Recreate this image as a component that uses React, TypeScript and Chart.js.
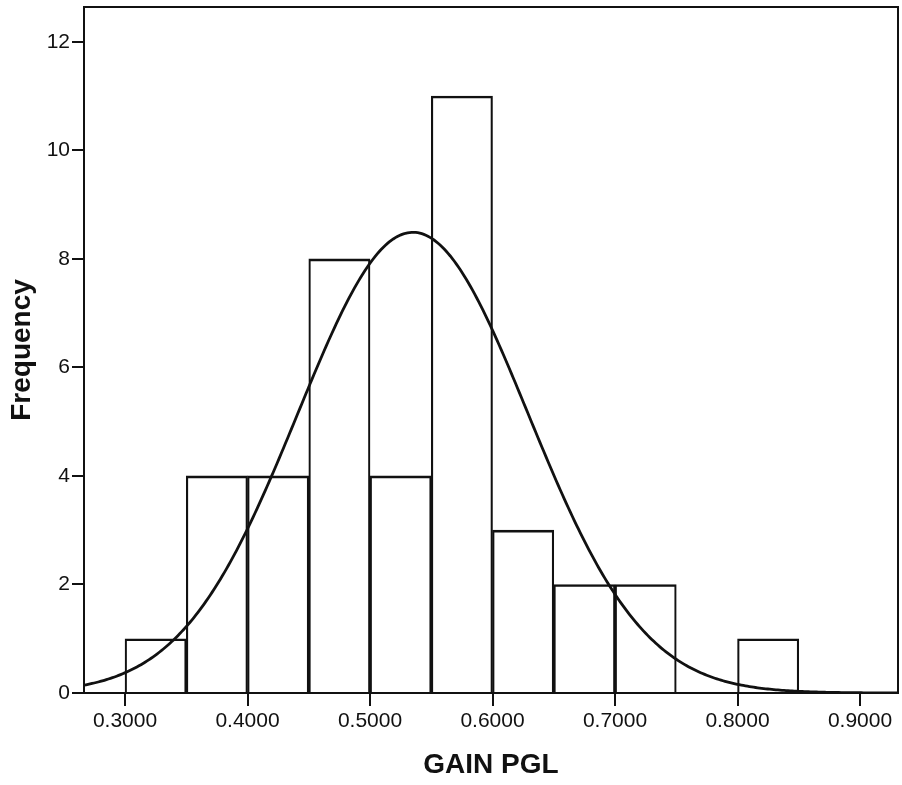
import React, { useEffect, useRef } from "react";
import { Chart, registerables } from "chart.js";

Chart.register(...registerables);

// Histogram bins (lower edges) and frequencies
const binStarts = [0.3, 0.35, 0.4, 0.45, 0.5, 0.55, 0.6, 0.65, 0.7, 0.75, 0.8];
const frequencies = [1, 4, 4, 8, 4, 11, 3, 2, 2, 0, 1];
const binWidth = 0.05;

// Fitted normal curve parameters
const curveMean = 0.535;
const curveStdDev = 0.094;
const sampleSize = 40;

const xMin = 0.2665;
const xMax = 0.931;
const yMax = 12.64;
const xTickStep = 0.1;
const yTickStep = 2;

const xTitle = "GAIN PGL";
const yTitle = "Frequency";

const FONT = "'Liberation Sans', Arial, Helvetica, sans-serif";

function normalFreq(x: number): number {
  const z = (x - curveMean) / curveStdDev;
  return (
    (sampleSize * binWidth) / (curveStdDev * Math.sqrt(2 * Math.PI)) *
    Math.exp(-0.5 * z * z)
  );
}

export default function App() {
  const ref = useRef<HTMLCanvasElement | null>(null);

  useEffect(() => {
    if (!ref.current) return;
    const barData = binStarts.map((s, i) => ({ x: s + binWidth / 2, y: frequencies[i] }));
    const curve: { x: number; y: number }[] = [];
    const steps = 400;
    for (let i = 0; i <= steps; i++) {
      const x = xMin + ((xMax - xMin) * i) / steps;
      curve.push({ x, y: normalFreq(x) });
    }

    const noPad = (scale: any) => {
      scale.paddingTop = 0;
      scale.paddingBottom = 0;
      scale.paddingLeft = 0;
      scale.paddingRight = 0;
    };

    const chart = new Chart(ref.current, {
      type: "bar",
      data: {
        datasets: [
          {
            type: "line",
            data: curve,
            borderColor: "#111",
            borderWidth: 2.8,
            pointRadius: 0,
            tension: 0,
            fill: false,
            order: 0,
          } as any,
          {
            type: "bar",
            data: barData,
            backgroundColor: "rgba(255,255,255,0)",
            borderColor: "#111",
            borderWidth: (ctx: any) =>
              ctx.raw && ctx.raw.y === 0 ? 0 : { top: 2, left: 1.5, right: 1.5, bottom: 0 },
            borderSkipped: false,
            barPercentage: 1,
            categoryPercentage: 1,
            order: 1,
          } as any,
        ],
      },
      options: {
        responsive: false,
        animation: false,
        layout: { padding: { top: 7, right: 4, left: 0, bottom: 0 } },
        plugins: {
          legend: { display: false },
          tooltip: { enabled: false },
        },
        scales: {
          x: {
            type: "linear",
            position: "bottom",
            min: xMin,
            max: xMax,
            offset: false,
            grid: {
              display: true,
              offset: false,
              drawOnChartArea: false,
              drawTicks: true,
              tickLength: 13,
              color: "#111",
              lineWidth: 2,
            },
            border: { display: true, color: "#111", width: 2 },
            ticks: {
              stepSize: xTickStep,
              includeBounds: false,
              autoSkip: false,
              maxRotation: 0,
              padding: 3,
              color: "#111",
              font: { family: FONT, size: 21 },
              callback: (v: any) => Number(v).toFixed(4),
            },
            title: {
              display: true,
              text: xTitle,
              color: "#111",
              font: { family: FONT, size: 28, weight: "bold" },
              padding: { top: 0, bottom: 3 },
            },
            afterFit: (scale: any) => {
              scale.height = 92;
              noPad(scale);
            },
          },
          x2: {
            type: "linear",
            position: "top",
            min: xMin,
            max: xMax,
            grid: { display: false, drawTicks: false },
            border: { display: true, color: "#111", width: 2 },
            ticks: { display: false },
            afterFit: (scale: any) => {
              scale.height = 0;
              noPad(scale);
            },
          },
          y: {
            type: "linear",
            position: "left",
            min: 0,
            max: yMax,
            grid: {
              display: true,
              drawOnChartArea: false,
              drawTicks: true,
              tickLength: 12,
              color: "#111",
              lineWidth: 2,
            },
            border: { display: true, color: "#111", width: 2 },
            ticks: {
              stepSize: yTickStep,
              includeBounds: false,
              padding: 2,
              color: "#111",
              font: { family: FONT, size: 21 },
              callback: (v: any) => String(Math.round(Number(v))),
            },
            title: {
              display: true,
              text: yTitle,
              color: "#111",
              font: { family: FONT, size: 28, weight: "bold" },
              padding: { top: 5, bottom: 0 },
            },
            afterFit: (scale: any) => {
              scale.width = 84;
              noPad(scale);
            },
          },
          y2: {
            type: "linear",
            position: "right",
            min: 0,
            max: yMax,
            grid: { display: false, drawTicks: false },
            border: { display: true, color: "#111", width: 2 },
            ticks: { display: false },
            afterFit: (scale: any) => {
              scale.width = 0;
              noPad(scale);
            },
          },
        },
      } as any,
    });
    return () => chart.destroy();
  }, []);

  return (
    <div
      style={{
        position: "absolute",
        left: 0,
        top: 0,
        width: 902,
        height: 785,
        background: "#fff",
      }}
    >
      <canvas ref={ref} width={902} height={785} style={{ display: "block" }} />
    </div>
  );
}
